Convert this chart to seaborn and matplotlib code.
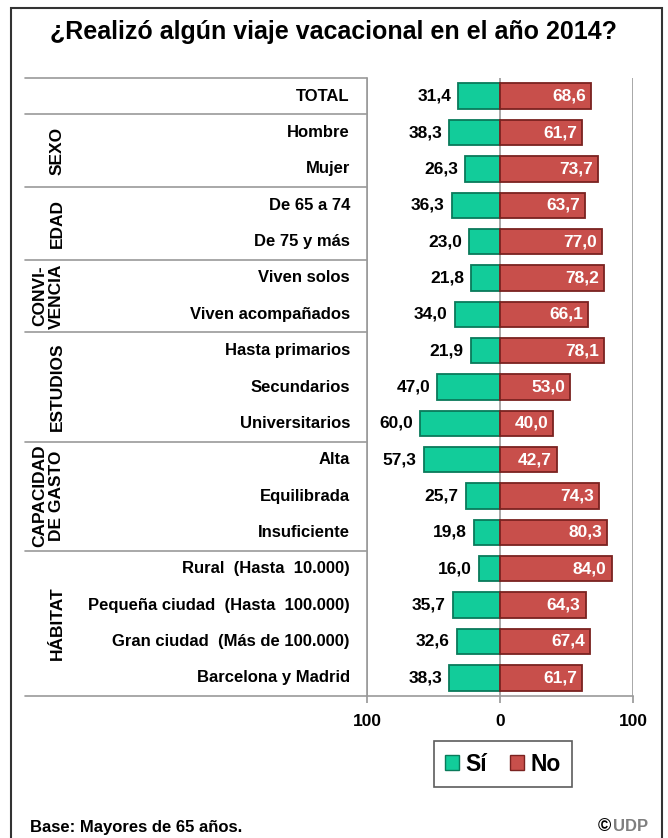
import matplotlib
matplotlib.use("Agg")
import matplotlib.pyplot as plt
import matplotlib.transforms as mtransforms
from matplotlib.lines import Line2D
from matplotlib.patches import Rectangle, Patch
import seaborn as sns
import pandas as pd

labels = ["TOTAL", "Hombre", "Mujer", "De 65 a 74", "De 75 y más", "Viven solos",
          "Viven acompañados", "Hasta primarios", "Secundarios", "Universitarios",
          "Alta", "Equilibrada", "Insuficiente", "Rural  (Hasta  10.000)",
          "Pequeña ciudad  (Hasta  100.000)", "Gran ciudad  (Más de 100.000)",
          "Barcelona y Madrid"]
si = [31.4, 38.3, 26.3, 36.3, 23.0, 21.8, 34.0, 21.9, 47.0, 60.0, 57.3, 25.7,
      19.8, 16.0, 35.7, 32.6, 38.3]
no = [68.6, 61.7, 73.7, 63.7, 77.0, 78.2, 66.1, 78.1, 53.0, 40.0, 42.7, 74.3,
      80.3, 84.0, 64.3, 67.4, 61.7]
groups = ["SEXO", "EDAD", "CONVI-\nVENCIA", "ESTUDIOS", "CAPACIDAD\nDE GASTO", "HÁBITAT"]
group_rows = [(1, 2), (3, 4), (5, 6), (7, 9), (10, 12), (13, 16)]

df = pd.DataFrame({"label": labels, "si": [-v for v in si], "no": no})

sns.set_theme(style="white")
plt.rcParams["font.family"] = ["Liberation Sans", "DejaVu Sans"]
plt.rcParams["text.color"] = "black"
plt.rcParams["xtick.color"] = "black"
plt.rcParams["axes.labelcolor"] = "black"

W, H = 668, 838
fig = plt.figure(figsize=(W / 100, H / 100), dpi=100)
ax = fig.add_axes([367 / W, 1 - 696 / H, 266 / W, 618 / H])

green = "#12CC9A"
red = "#C84F4B"
sns.barplot(data=df, x="si", y="label", order=labels, color=green, width=0.7,
            edgecolor="#0A7A5A", linewidth=1.3, saturation=1, ax=ax, errorbar=None)
sns.barplot(data=df, x="no", y="label", order=labels, color=red, width=0.7,
            edgecolor="#7A2220", linewidth=1.3, saturation=1, ax=ax, errorbar=None)

ax.set_xlim(-100, 100)
ax.set_ylim(len(labels) - 0.5, -0.5)
for xv in (-100, 0, 100):
    ax.axvline(xv, color="#9A9A9A", lw=1.2, zorder=0.5)
ax.set_xticks([-100, 0, 100])
ax.set_xticklabels(["100", "0", "100"], fontsize=12.5, fontweight="bold")
ax.tick_params(axis="x", bottom=True, length=5, color="#9A9A9A", pad=8)
ax.set_yticks([])
ax.set_xlabel("")
ax.set_ylabel("")
for s in ("top", "left", "right"):
    ax.spines[s].set_visible(False)
ax.spines["bottom"].set_color("#9A9A9A")
ax.spines["bottom"].set_linewidth(1.2)

fmt = lambda v: f"{v:.1f}".replace(".", ",")
for i, (a, b) in enumerate(zip(si, no)):
    ax.annotate(fmt(a), xy=(-a, i), xytext=(-7, 0), textcoords="offset pixels",
                ha="right", va="center", fontsize=12.5, fontweight="bold", color="black")
    ax.annotate(fmt(b), xy=(b, i), xytext=(-5, 0), textcoords="offset pixels",
                ha="right", va="center", fontsize=12.5, fontweight="bold", color="white")

# label column
tr = mtransforms.blended_transform_factory(fig.transFigure, ax.transData)
for i, lab in enumerate(labels):
    ax.text(350 / W, i, lab, transform=tr, ha="right", va="center",
            fontsize=12, fontweight="bold", clip_on=False)
for yb in (-0.5, 0.5, 2.5, 4.5, 6.5, 9.5, 12.5, 16.5):
    ax.add_line(Line2D([25 / W, 367 / W], [yb, yb], transform=tr, color="#9A9A9A",
                       lw=1.2, clip_on=False))
ax.add_line(Line2D([367 / W, 367 / W], [-0.5, 16.5], transform=tr, color="#9A9A9A",
                   lw=1.2, clip_on=False))
for g, (r0, r1) in zip(groups, group_rows):
    xg = 48 / W if "\n" in g else 57 / W
    ax.text(xg, (r0 + r1) / 2, g, transform=tr, rotation=90, ha="center", va="center",
            fontsize=12.5, fontweight="bold", linespacing=1.1, clip_on=False)

fig.text(0.5, 1 - 32 / H, "¿Realizó algún viaje vacacional en el año 2014?",
         ha="center", va="center", fontsize=18, fontweight="bold")

handles = [Patch(facecolor=green, edgecolor="#0A7A5A"), Patch(facecolor=red, edgecolor="#7A2220")]
leg = fig.legend(handles, ["Sí", "No"], loc="center", bbox_to_anchor=(503 / W, 1 - 764 / H),
                 ncol=2, frameon=True, fancybox=False, handlelength=0.6, handleheight=0.6,
                 handletextpad=0.3, columnspacing=1.0, borderpad=0.5,
                 prop={"size": 16.5, "weight": "bold"})
leg.get_frame().set_edgecolor("#333333")
leg.get_frame().set_linewidth(1.2)

fig.text(30 / W, 1 - 827 / H, "Base: Mayores de 65 años.", ha="left", va="center",
         fontsize=12, fontweight="bold")
fig.text(611 / W, 1 - 826 / H, "©", ha="right", va="center", fontsize=13, fontweight="bold")
fig.text(613 / W, 1 - 826 / H, "UDP", ha="left", va="center", fontsize=12,
         fontweight="bold", color="#7F7F7F")

fig.patches.append(Rectangle((11 / W, -0.02), 651 / W, 1.02 - 8 / H, transform=fig.transFigure,
                             fill=False, edgecolor="#333333", lw=1.5))

fig.savefig("out.png", dpi=100)
